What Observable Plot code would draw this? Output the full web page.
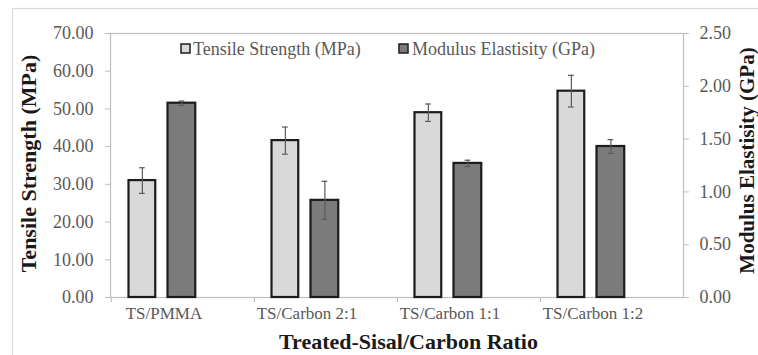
<!DOCTYPE html>
<html>
<head>
<meta charset="utf-8">
<script src="https://cdn.jsdelivr.net/npm/d3@7"></script>
<script src="https://cdn.jsdelivr.net/npm/@observablehq/plot@0.6"></script>
<style>
  html, body { margin: 0; padding: 0; background: #fff; }
  #chart svg { display: block; }
</style>
</head>
<body>
<div id="chart"></div>
<script>
// ---- data ----
const categories = ["TS/PMMA", "TS/Carbon 2:1", "TS/Carbon 1:1", "TS/Carbon 1:2"];
const tensile = [31.0, 41.6, 49.0, 54.7];          // MPa
const tensileErr = [3.4, 3.6, 2.3, 4.2];
const modulus = [1.84, 0.92, 1.27, 1.43];          // GPa
const modulusErr = [0.02, 0.18, 0.03, 0.065];
const leftTicks = [0, 10, 20, 30, 40, 50, 60, 70];
const rightTicks = [0, 0.5, 1.0, 1.5, 2.0, 2.5];
const seriesNames = ["Tensile Strength (MPa)", "Modulus Elastisity (GPa)"];
const xTitle = "Treated-Sisal/Carbon Ratio";
const yTitle = "Tensile Strength (MPa)";
const y2Title = "Modulus Elastisity (GPa)";

// ---- layout ----
const W = 758, H = 355;
const mL = 110, mR = 75, mT = 33, mB = 58;
const yMax = 70, y2Max = 2.5, ratio = yMax / y2Max;
const bw = (W - mL - mR) / categories.length;
const font = "Liberation Serif, Times New Roman, serif";

const rows = categories.map((c, i) => ({
  cat: c,
  t: tensile[i], tLo: tensile[i] - tensileErr[i], tHi: tensile[i] + tensileErr[i],
  m: modulus[i] * ratio, mLo: (modulus[i] - modulusErr[i]) * ratio, mHi: (modulus[i] + modulusErr[i]) * ratio
}));

const lightFill = "#d9d9d9", darkFill = "#7b7b7b", barStroke = "#1c1c1c";
const errColor = "#5a5a5a", axisColor = "#bfbfbf", labelColor = "#595959";

// bar placement inside each band (pixels from band start)
const lightL = 17.5, lightW = 27, darkL = 56.5, darkW = 28;
const capW = 6;

const chart = Plot.plot({
  width: W, height: H,
  marginLeft: mL, marginRight: mR, marginTop: mT, marginBottom: mB,
  x: {type: "band", domain: categories, padding: 0, axis: null},
  y: {domain: [0, yMax], axis: null},
  style: {fontFamily: font, background: "white", overflow: "visible"},
  marks: [
    Plot.frame({stroke: axisColor, strokeWidth: 1.2}),
    // bars
    Plot.barY(rows, {x: "cat", y: "t", fill: lightFill, stroke: barStroke, strokeWidth: 2.2,
      insetLeft: lightL, insetRight: bw - lightL - lightW}),
    Plot.barY(rows, {x: "cat", y: "m", fill: darkFill, stroke: barStroke, strokeWidth: 2.2,
      insetLeft: darkL, insetRight: bw - darkL - darkW}),
    // error bars
    Plot.ruleX(rows, {x: "cat", y1: "tLo", y2: "tHi", stroke: errColor, strokeWidth: 1.2,
      dx: lightL + lightW / 2 - bw / 2}),
    Plot.tickY(rows, {x: "cat", y: "tLo", stroke: errColor, strokeWidth: 1.2,
      insetLeft: lightL + lightW / 2 - capW / 2, insetRight: bw - (lightL + lightW / 2 + capW / 2)}),
    Plot.tickY(rows, {x: "cat", y: "tHi", stroke: errColor, strokeWidth: 1.2,
      insetLeft: lightL + lightW / 2 - capW / 2, insetRight: bw - (lightL + lightW / 2 + capW / 2)}),
    Plot.ruleX(rows, {x: "cat", y1: "mLo", y2: "mHi", stroke: errColor, strokeWidth: 1.2,
      dx: darkL + darkW / 2 - bw / 2}),
    Plot.tickY(rows, {x: "cat", y: "mLo", stroke: errColor, strokeWidth: 1.2,
      insetLeft: darkL + darkW / 2 - capW / 2, insetRight: bw - (darkL + darkW / 2 + capW / 2)}),
    Plot.tickY(rows, {x: "cat", y: "mHi", stroke: errColor, strokeWidth: 1.2,
      insetLeft: darkL + darkW / 2 - capW / 2, insetRight: bw - (darkL + darkW / 2 + capW / 2)}),
    // category boundary ticks
    Plot.ruleX(categories, {x: d => d, y1: 0, y2: 0, insetBottom: -5, dx: -bw / 2, stroke: axisColor, strokeWidth: 1.2}),
    // axes
    Plot.axisY(leftTicks, {anchor: "left", tickSize: 5, tickPadding: 12, stroke: axisColor,
      tickFormat: d => d.toFixed(2), fontSize: 18, fontFamily: font, fill: labelColor, label: null}),
    Plot.axisY(rightTicks.map(d => d * ratio), {anchor: "right", tickSize: 5, tickPadding: 11, stroke: axisColor,
      tickFormat: d => (d / ratio).toFixed(2), fontSize: 18, fontFamily: font, fill: labelColor, label: null}),
    Plot.axisX({anchor: "bottom", tickSize: 0, tickPadding: 9, dx: -19, fontSize: 17, fontFamily: font, fill: labelColor, label: null}),
    // titles
    Plot.text([yTitle], {frameAnchor: "left", text: d => d, rotate: -90, dx: -82, dy: -2, fontFamily: font,
      fontSize: 22, fontWeight: "bold", fill: "#1a1a1a", textAnchor: "middle"}),
    Plot.text([y2Title], {frameAnchor: "right", text: d => d, rotate: -90, dx: 64, dy: -5, fontFamily: font,
      fontSize: 21, fontWeight: "bold", fill: "#1a1a1a", textAnchor: "middle"}),
    Plot.text([xTitle], {frameAnchor: "bottom", text: d => d, dx: 11.5, dy: 44, lineAnchor: "middle", fontFamily: font,
      fontSize: 22, fontWeight: "bold", fill: "#1a1a1a", textAnchor: "middle"})
  ]
});

// outer chart border + legend
const svg = d3.select(chart);
svg.insert("rect", ":first-child")
  .attr("x", 12.5).attr("y", 8.5).attr("width", W).attr("height", H)
  .attr("fill", "none").attr("stroke", "#d9d9d9").attr("stroke-width", 1.2);

const legend = svg.append("g").attr("font-family", font).attr("font-size", 18)
  .attr("fill", labelColor).attr("text-anchor", "start");
const legendItems = [
  {name: seriesNames[0], fill: lightFill, sx: 181, tx: 193},
  {name: seriesNames[1], fill: darkFill, sx: 399, tx: 412}
];
legendItems.forEach(it => {
  legend.append("rect").attr("x", it.sx).attr("y", 44).attr("width", 9).attr("height", 9)
    .attr("fill", it.fill).attr("stroke", barStroke).attr("stroke-width", 1.5);
  legend.append("text").attr("x", it.tx).attr("y", 55).attr("text-anchor", "start")
    .style("font-family", font).text(it.name);
});

document.getElementById("chart").appendChild(chart);
</script>
</body>
</html>
